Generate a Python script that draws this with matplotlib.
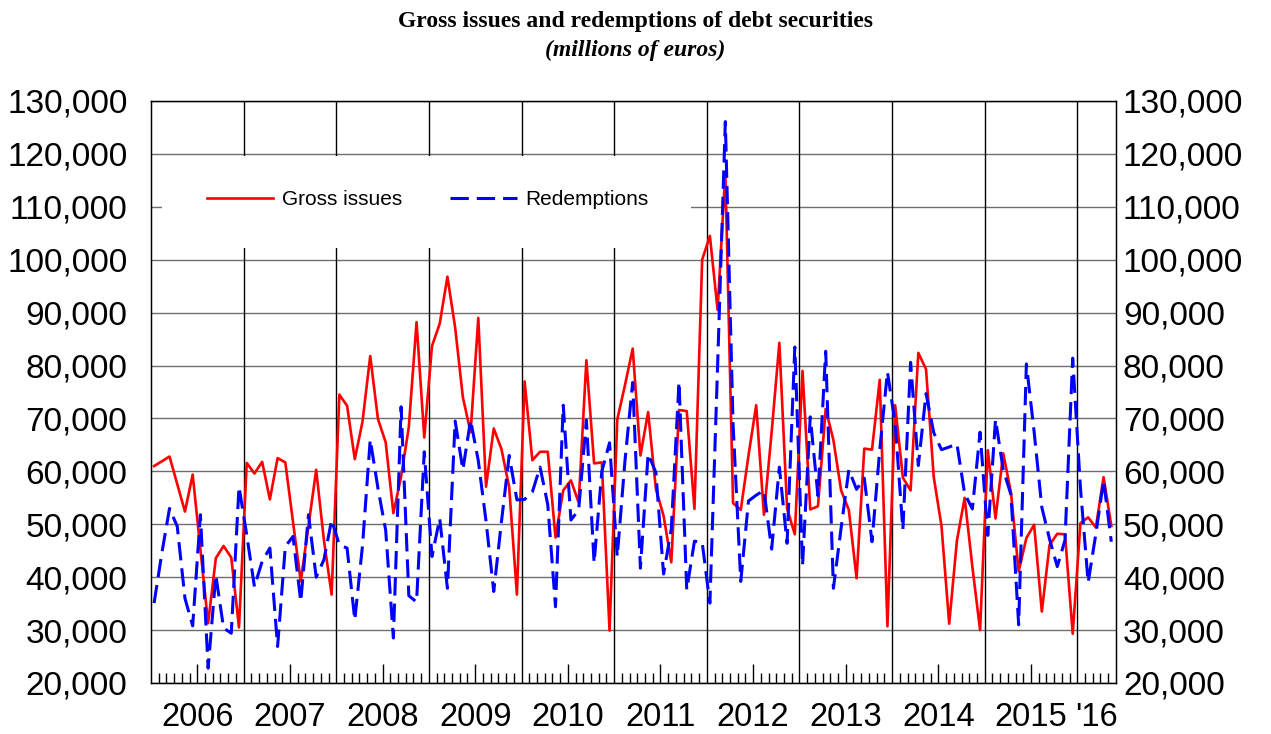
#!/usr/bin/env python3
"""
Gross issues and redemptions of debt securities, monthly, Jan 2006 - May 2016.
Saves out.png.
"""

import numpy as np
import matplotlib

matplotlib.use("Agg")
import matplotlib.pyplot as plt
from matplotlib.patches import Rectangle
from matplotlib.ticker import FuncFormatter, FixedLocator

# monthly values, millions of euros
gross_issues = [
    61000, 61900, 62800, 57600, 52400, 59400, 45300, 31300, 43600, 45900, 43700, 30500,  # 2006
    61600, 59600, 61800, 54700, 62500, 61700, 50400, 39200, 49700, 60300, 47000, 36700,  # 2007
    74500, 72400, 62300, 69400, 81800, 69900, 65500, 52100, 59000, 68400, 88200, 66400,  # 2008
    83700, 87900, 96800, 87200, 74000, 67400, 89000, 57100, 68100, 64200, 57000, 36700,  # 2009
    77000, 62100, 63700, 63700, 47500, 56400, 58300, 54100, 81000, 61500, 61700, 29900,  # 2010
    69800, 76300, 83200, 63000, 71200, 56700, 51600, 42800, 71600, 71400, 52900, 100000,  # 2011
    104500, 90500, 116600, 54000, 52700, 63000, 72500, 51800, 67400, 84300, 53000, 48100,  # 2012
    79000, 52800, 53400, 71800, 65900, 56400, 52700, 39800, 64300, 64100, 77300, 30700,  # 2013
    72500, 58800, 56400, 82400, 79300, 58900, 49700, 31200, 46900, 55000, 42000, 30000,  # 2014
    64000, 51100, 63400, 56000, 41100, 47400, 49900, 33500, 46100, 48200, 48100, 29300,  # 2015
    50200, 51300, 49400, 58900, 49700,  # 2016
]

redemptions = [
    35100, 44500, 53000, 49600, 36000, 30800, 51800, 22800, 40400, 30400, 29400, 57100,  # 2006
    48000, 38200, 43000, 45500, 26900, 45800, 47700, 35400, 51800, 40000, 43300, 50800,  # 2007
    46100, 45500, 31900, 46000, 66000, 56800, 48900, 28500, 72200, 36500, 35300, 63700,  # 2008
    43900, 51100, 37900, 69500, 60300, 69700, 62000, 50600, 37300, 50500, 63000, 54600,  # 2009
    54700, 56100, 60800, 53700, 34400, 72500, 50800, 52700, 69700, 42700, 60000, 65400,  # 2010
    43900, 62000, 76800, 41700, 63300, 59800, 40600, 49100, 76900, 37600, 46800, 46600,  # 2011
    35100, 80000, 126100, 69000, 39200, 54400, 55500, 56400, 45300, 60800, 46400, 83500,  # 2012
    42200, 70300, 55400, 82700, 37900, 49300, 60300, 56600, 58700, 46700, 64000, 78800,  # 2013
    69000, 49000, 80600, 61100, 74700, 67300, 64100, 64600, 65200, 55800, 52900, 67400,  # 2014
    47900, 69800, 60300, 55600, 31000, 80300, 67500, 53200, 47200, 42000, 47000, 81400,  # 2015
    56900, 39000, 48200, 58300, 46700,  # 2016
]

year_labels = ["2006", "2007", "2008", "2009", "2010", "2011",
               "2012", "2013", "2014", "2015", "'16"]

y_ticks = list(range(20000, 130001, 10000))

FONT = "Liberation Sans"
SERIF = "Liberation Serif"


def thousands(v, _pos=None):
    return f"{int(v):,}"


def main():
    n = len(gross_issues)
    months = np.arange(n) + 0.4  # points sit a bit inside each month

    fig = plt.figure(figsize=(12.71, 7.34), dpi=100)
    ax = fig.add_axes([0.1188, 0.0695, 0.7592, 0.7929])

    ax.set_xlim(0, n)
    ax.set_ylim(20000, 130000)

    # horizontal grid
    ax.set_yticks(y_ticks)
    ax.yaxis.set_major_formatter(FuncFormatter(thousands))
    ax.grid(axis="y", color="#6e6e6e", linewidth=1.0)
    ax.set_axisbelow(True)
    ax.tick_params(axis="y", length=0, pad=17, labelsize=24)

    # year separators
    for b in range(12, n, 12):
        ax.axvline(b, color="black", linewidth=1.0, zorder=1)

    # month ticks inside, long tick at mid year
    ax.xaxis.set_major_locator(FixedLocator(list(range(6, n, 12))))
    ax.xaxis.set_minor_locator(FixedLocator([m for m in range(1, n) if m % 12]))
    ax.tick_params(axis="x", which="major", direction="in", length=14,
                   width=1.0, labelbottom=False)
    ax.tick_params(axis="x", which="minor", direction="in", length=7, width=1.0)

    centers = [6 + 12 * i for i in range(len(year_labels) - 1)]
    centers.append(120 + (n - 120) / 2)
    for cx, lab in zip(centers, year_labels):
        ax.text(cx, -0.06, lab, transform=ax.get_xaxis_transform(),
                ha="center", va="center", fontsize=23.5, family=FONT)

    for lab in ax.get_yticklabels():
        lab.set_family(FONT)

    # white box behind legend hides the grid there
    ax.add_patch(Rectangle((0.0114, 0.747), 0.548, 0.158, transform=ax.transAxes,
                           facecolor="white", edgecolor="none", zorder=2))

    ax.plot(months, gross_issues, color="#ff0000", linewidth=1.9,
            label="Gross issues", zorder=3)
    ax.plot(months, redemptions, color="#0000ff", linewidth=2.2,
            dashes=(6.0, 2.6), label="Redemptions", zorder=3)

    leg = ax.legend(loc="center left", bbox_to_anchor=(0.047, 0.83), ncol=2,
                    frameon=False, borderpad=0, handlelength=3.2,
                    handletextpad=0.4, columnspacing=2.3,
                    prop={"family": FONT, "size": 15})
    leg.set_zorder(4)

    for sp in ax.spines.values():
        sp.set_color("black")
        sp.set_linewidth(1.0)

    # right hand axis repeats the labels
    ax2 = ax.twinx()
    ax2.set_ylim(ax.get_ylim())
    ax2.set_yticks(y_ticks)
    ax2.yaxis.set_major_formatter(FuncFormatter(thousands))
    ax2.tick_params(axis="y", length=0, pad=5, labelsize=24)
    for lab in ax2.get_yticklabels():
        lab.set_family(FONT)

    fig.text(0.5, 1 - 22 / 734, "Gross issues and redemptions of debt securities",
             ha="center", va="center", family=SERIF, weight="bold", fontsize=17)
    fig.text(0.5, 1 - 50 / 734, "(millions of euros)", ha="center", va="center",
             family=SERIF, weight="bold", style="italic", fontsize=17)

    fig.savefig("out.png", dpi=100)
    plt.close(fig)


if __name__ == "__main__":
    main()
